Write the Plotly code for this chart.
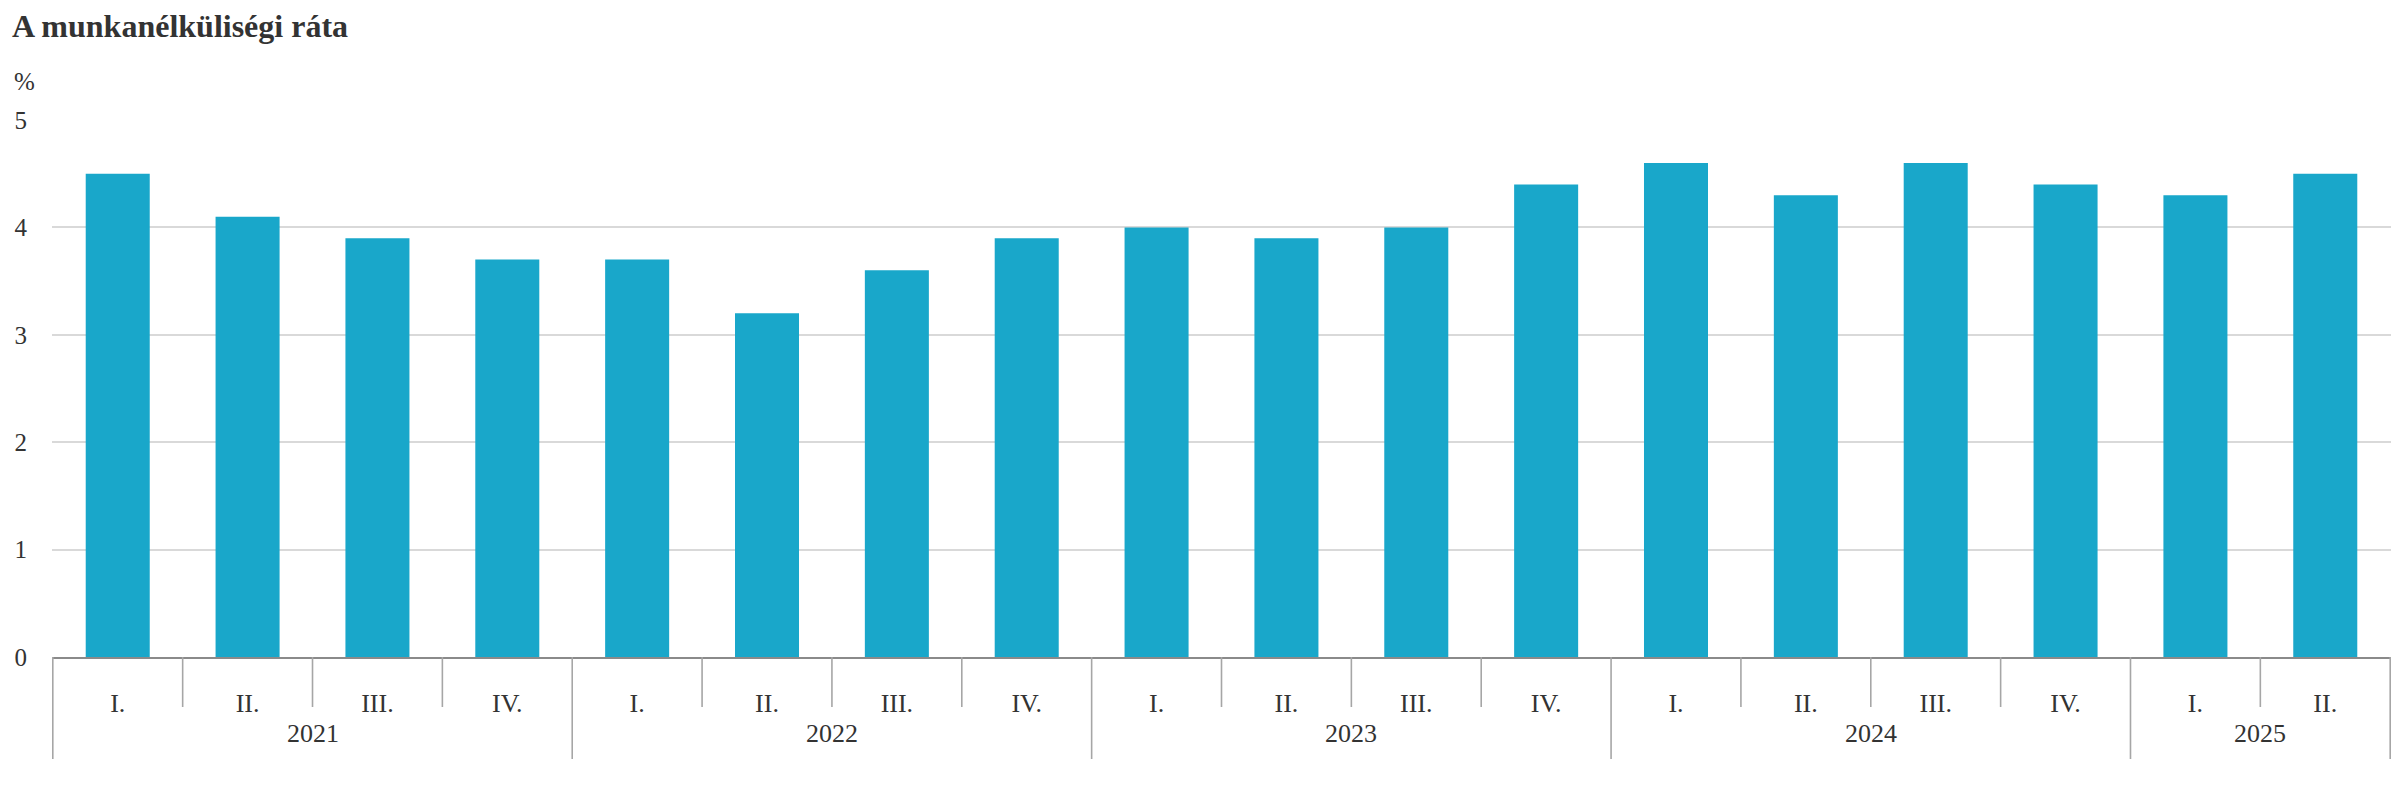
import plotly.graph_objects as go

years = ["2021"] * 4 + ["2022"] * 4 + ["2023"] * 4 + ["2024"] * 4 + ["2025"] * 2
quarters = ["I.", "II.", "III.", "IV."] * 4 + ["I.", "II."]
rate = [4.5, 4.1, 3.9, 3.7, 3.7, 3.2, 3.6, 3.9, 4.0, 3.9, 4.0, 4.4, 4.6, 4.3, 4.6, 4.4, 4.3, 4.5]

BAR = "#19a7ca"
TXT = "#333333"
FONT = "Liberation Serif"
DIV = "#a6a6a6"

# page body has an 8px default margin -> figure is drawn at (8, 8)
W, H = 2392, 792
ML, MR, MT, MB = 44, 9, 112, 143
PH = H - MT - MB
PW = W - ML - MR

cats = [f"{y} {q}" for y, q in zip(years, quarters)]
n = len(rate)

fig = go.Figure(go.Bar(x=cats, y=rate, marker=dict(color=BAR, line=dict(width=0)),
                       customdata=years, hovertemplate="%{customdata} %{x}: %{y}<extra></extra>"))

shapes = []
# quarter dividers (between quarters of the same year)
for i in range(n - 1):
    if years[i] == years[i + 1]:
        shapes.append(dict(type="line", xref="x", yref="paper", x0=i + 0.5, x1=i + 0.5,
                           y0=0, y1=-50 / PH, line=dict(color=DIV, width=1.6)))
# year dividers (group boundaries, including both ends)
bounds = [-0.5] + [i + 0.5 for i in range(n - 1) if years[i] != years[i + 1]] + [n - 0.5]
for b in bounds:
    shapes.append(dict(type="line", xref="x", yref="paper", x0=b, x1=b,
                       y0=0, y1=-102 / PH, line=dict(color=DIV, width=1.6)))

annotations = [dict(text="%", xref="paper", yref="paper", x=-40 / PW, y=1 + 39 / PH,
                    xanchor="left", yanchor="middle", showarrow=False,
                    font=dict(family=FONT, size=25, color=TXT))]
# year labels centred under their quarter groups
for y in dict.fromkeys(years):
    idx = [i for i, v in enumerate(years) if v == y]
    annotations.append(dict(text=y, xref="x", yref="paper", x=(idx[0] + idx[-1]) / 2,
                            y=-76 / PH, xanchor="center", yanchor="middle", showarrow=False,
                            font=dict(family=FONT, size=26, color=TXT)))

fig.update_layout(
    width=W, height=H,
    paper_bgcolor="white", plot_bgcolor="white",
    margin=dict(l=ML, r=MR, t=MT, b=MB, autoexpand=False),
    bargap=0.507,
    showlegend=False,
    font=dict(family=FONT, color=TXT, size=24),
    title=dict(text="<b>A munkanélküliségi ráta</b>", x=0, xref="container", xanchor="left",
               y=1 - 18 / H, yref="container", yanchor="middle",
               pad=dict(l=4, t=0, b=0, r=0),
               font=dict(family=FONT, size=32, color=TXT)),
    annotations=annotations,
    shapes=shapes,
)
fig.update_yaxes(range=[0, 5], dtick=1, showgrid=True, gridcolor="#d9d9d9", gridwidth=1.6,
                 zeroline=False, showline=False, ticks="", ticklabelstandoff=24, automargin=False,
                 tickfont=dict(family=FONT, size=25, color=TXT))
fig.update_xaxes(type="category", showline=True, linecolor="#8a8a8a", linewidth=1.8,
                 ticks="", tickvals=cats, ticktext=quarters, ticklabelstandoff=22,
                 automargin=False, tickfont=dict(family=FONT, size=26, color=TXT), showgrid=False)

fig.write_html("out.html")
